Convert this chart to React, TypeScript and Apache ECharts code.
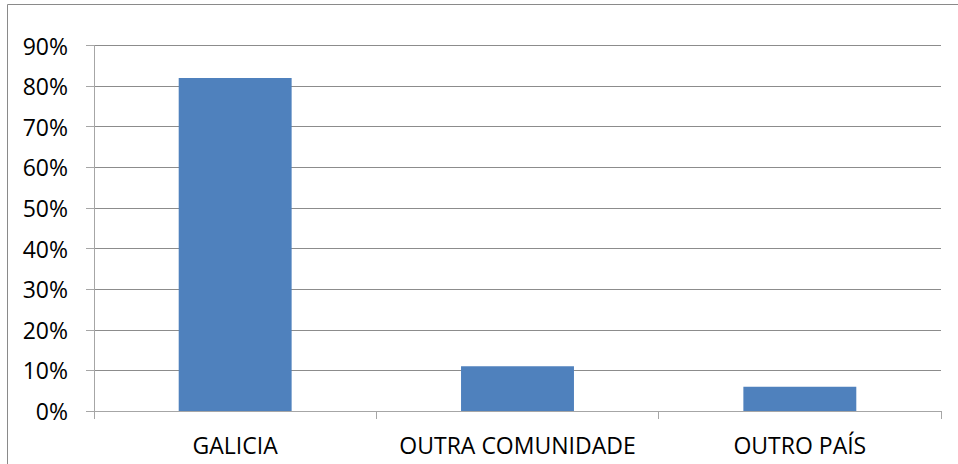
import React, { useEffect, useRef } from "react";
import * as echarts from "echarts";

const categories = ["GALICIA", "OUTRA COMUNIDADE", "OUTRO PAÍS"];
const values = [82, 11, 6];
const yTicks = [0, 10, 20, 30, 40, 50, 60, 70, 80, 90];

export default function App() {
  const ref = useRef<HTMLDivElement>(null);
  useEffect(() => {
    document.body.style.margin = "0";
    const chart = echarts.init(ref.current!, undefined, { renderer: "svg" });
    chart.setOption({
      animation: false,
      backgroundColor: "#ffffff",
      textStyle: { fontFamily: "'Open Sans', Lato, sans-serif" },
      graphic: [
        {
          type: "rect",
          left: 5,
          top: 2,
          shape: { width: 1000, height: 500 },
          style: { fill: "none", stroke: "#8a8a8a", lineWidth: 1 },
          silent: true,
        },
      ],
      grid: { left: 94, right: 17, top: 45.5, bottom: 53, containLabel: false },
      xAxis: {
        type: "category",
        data: categories,
        axisLine: { show: true, lineStyle: { color: "#a6a6a6", width: 1 } },
        axisTick: { show: true, alignWithLabel: false, interval: 0, length: 8, lineStyle: { color: "#a6a6a6" } },
        axisLabel: { color: "#000", fontSize: 23, margin: 22, interval: 0, hideOverlap: false },
        splitLine: { show: false },
      },
      yAxis: {
        type: "value",
        min: 0,
        max: 90,
        interval: 10,
        axisLine: { show: true, lineStyle: { color: "#a6a6a6", width: 1 } },
        axisTick: { show: true, length: 8, lineStyle: { color: "#a6a6a6" } },
        axisLabel: {
          color: "#000",
          fontSize: 23,
          margin: 26,
          formatter: (v: number) => (yTicks.includes(v) ? v + "%" : ""),
        },
        splitLine: { show: true, lineStyle: { color: "#8c8c8c", width: 1 } },
      },
      series: [
        {
          type: "bar",
          data: values,
          barWidth: "40%",
          itemStyle: { color: "#4F81BD" },
        },
      ],
    });
    return () => chart.dispose();
  }, []);
  return <div ref={ref} style={{ width: 958, height: 464 }} />;
}
